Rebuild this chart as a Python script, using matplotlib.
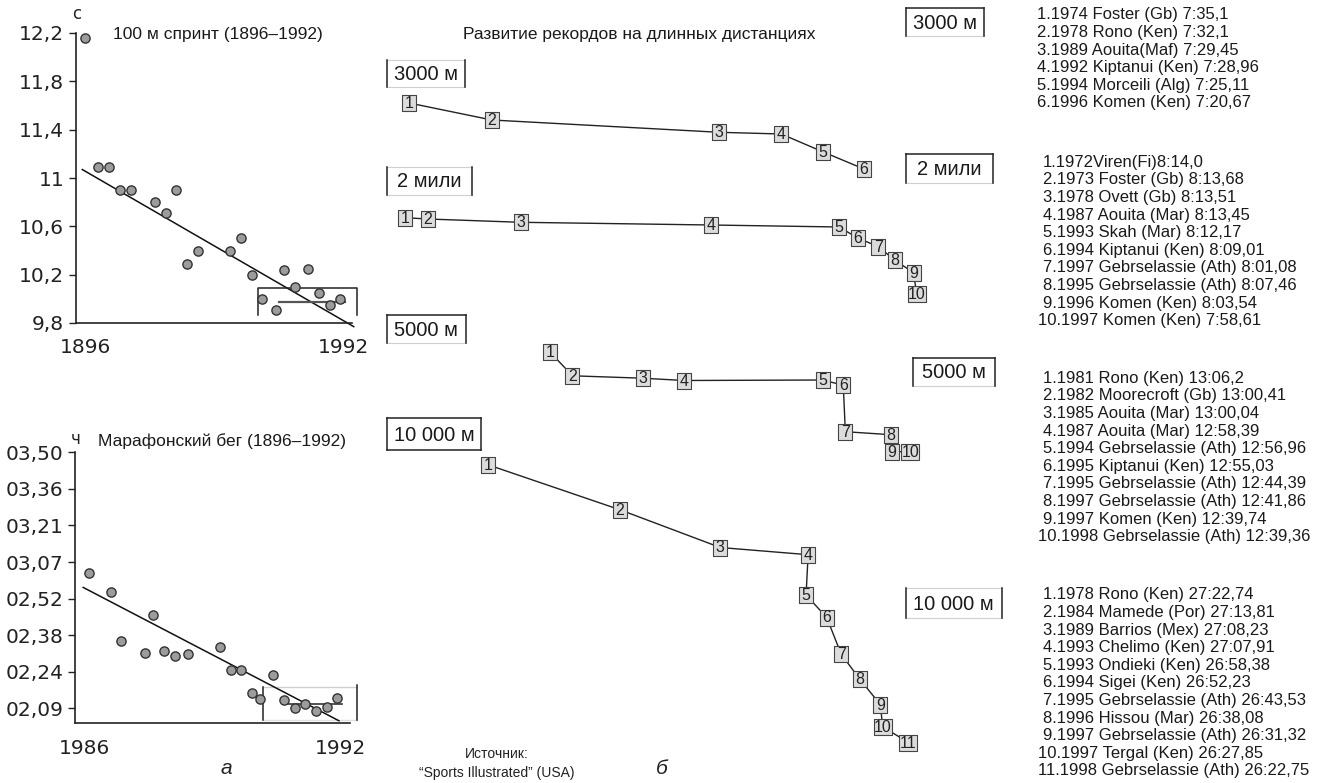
import numpy as np
import matplotlib.pyplot as plt
from matplotlib import font_manager

W, H = 1324, 783

have = {f.name for f in font_manager.fontManager.ttflist}
SANS = 'Liberation Sans' if 'Liberation Sans' in have else 'DejaVu Sans'
TICK = 'DejaVu Sans'

# ---- 100 m sprint ----
sprint_years = [1896, 1901, 1905, 1909, 1913, 1922, 1926, 1930, 1934, 1938, 1950,
                1954, 1958, 1962, 1967, 1970, 1974, 1979, 1983, 1987, 1991]
sprint_times = [12.16, 11.09, 11.09, 10.90, 10.90, 10.80, 10.71, 10.90, 10.29, 10.40, 10.40,
                10.50, 10.20, 10.00, 9.91, 10.24, 10.10, 10.25, 10.05, 9.95, 10.00]
sprint_trend_years = [1895, 1996]
sprint_trend = [11.07, 9.77]
sprint_box_years = [1960.3, 1997.3]
sprint_box_range = [9.87, 10.09]
sprint_level_years = [1968.3, 1992.7]
sprint_level = 9.97
sprint_ticks = [9.8, 10.2, 10.6, 11.0, 11.4, 11.8, 12.2]
sprint_tick_labels = ['9,8', '10,2', '10,6', '11', '11,4', '11,8', '12,2']

# ---- marathon (minutes) ----
marathon_years = [1898, 1906, 1910, 1919, 1922, 1926, 1930, 1935, 1947, 1951,
                  1955, 1959, 1962, 1967, 1971, 1975, 1979, 1983, 1987, 1991]
marathon_minutes = [182.3, 174.8, 155.7, 150.8, 165.8, 151.7, 149.7, 150.4, 153.3, 144.1,
                    144.0, 134.9, 132.7, 142.0, 132.3, 129.0, 130.6, 127.9, 129.6, 132.9]
marathon_trend_years = [1895.7, 1991.6]
marathon_trend = [176.7, 124.1]
marathon_box_years = [1963.0, 1998.3]
marathon_box_range = [124.4, 137.5]
marathon_level_years = [1970.5, 1992.6]
marathon_level = 130.7
marathon_tick_labels = ['02,09', '02,24', '02,38', '02,52', '03,07', '03,21', '03,36', '03,50']

# ---- long distances (schematic positions: year, vertical level) ----
m3000_x = [1974, 1978, 1989, 1992, 1994, 1996]
m3000_y = [103, 120, 132.3, 134, 151.7, 169]
miles2_x = [1973.8, 1974.9, 1979.4, 1988.6, 1994.8, 1995.7, 1996.7, 1997.5, 1998.4, 1998.55]
miles2_y = [217.7, 219, 222.3, 225, 227, 238, 246.7, 260.3, 272.7, 294.3]
m5000_x = [1980.8, 1981.9, 1985.3, 1987.3, 1994.0, 1995.0, 1995.1, 1997.3, 1997.35, 1998.25]
m5000_y = [351.8, 375.8, 378.2, 380.5, 380, 385.2, 431.7, 434.7, 451.7, 451.7]
m10000_x = [1977.8, 1984.2, 1989.05, 1993.3, 1993.2, 1994.2, 1994.9, 1995.8, 1996.8, 1996.9, 1998.15]
m10000_y = [464.7, 509.8, 547.5, 554.7, 595, 617.5, 654.2, 679.2, 704.8, 726.7, 742.5]

list_3000 = ['1.1974 Foster (Gb) 7:35,1', '2.1978 Rono (Ken) 7:32,1', '3.1989 Aouita(Maf) 7:29,45',
             '4.1992 Kiptanui (Ken) 7:28,96', '5.1994 Morceili (Alg) 7:25,11', '6.1996 Komen (Ken) 7:20,67']
list_2miles = ['1.1972Viren(Fi)8:14,0', '2.1973 Foster (Gb) 8:13,68', '3.1978 Ovett (Gb) 8:13,51',
               '4.1987 Aouita (Mar) 8:13,45', '5.1993 Skah (Mar) 8:12,17', '6.1994 Kiptanui (Ken) 8:09,01',
               '7.1997 Gebrselassie (Ath) 8:01,08', '8.1995 Gebrselassie (Ath) 8:07,46',
               '9.1996 Komen (Ken) 8:03,54', '10.1997 Komen (Ken) 7:58,61']
list_5000 = ['1.1981 Rono (Ken) 13:06,2', '2.1982 Moorecroft (Gb) 13:00,41', '3.1985 Aouita (Mar) 13:00,04',
             '4.1987 Aouita (Mar) 12:58,39', '5.1994 Gebrselassie (Ath) 12:56,96',
             '6.1995 Kiptanui (Ken) 12:55,03', '7.1995 Gebrselassie (Ath) 12:44,39',
             '8.1997 Gebrselassie (Ath) 12:41,86', '9.1997 Komen (Ken) 12:39,74',
             '10.1998 Gebrselassie (Ath) 12:39,36']
list_10000 = ['1.1978 Rono (Ken) 27:22,74', '2.1984 Mamede (Por) 27:13,81', '3.1989 Barrios (Mex) 27:08,23',
              '4.1993 Chelimo (Ken) 27:07,91', '5.1993 Ondieki (Ken) 26:58,38', '6.1994 Sigei (Ken) 26:52,23',
              '7.1995 Gebrselassie (Ath) 26:43,53', '8.1996 Hissou (Mar) 26:38,08',
              '9.1997 Gebrselassie (Ath) 26:31,32', '10.1997 Tergal (Ken) 26:27,85',
              '11.1998 Gebrselassie (Ath) 26:22,75']


def px_axes(fig, x0, y0, x1, y1):
    return fig.add_axes([x0 / W, 1 - y1 / H, (x1 - x0) / W, (y1 - y0) / H])


fig = plt.figure(figsize=(W / 100, H / 100), dpi=100)

# overlay in pixel units for annotations
ov = fig.add_axes([0, 0, 1, 1])
ov.set_xlim(0, W)
ov.set_ylim(H, 0)
ov.axis('off')

DOT = dict(s=44, facecolor='#9c9c9c', edgecolor='#333333', linewidths=1.0, zorder=3, clip_on=False)


def style_axes(ax):
    ax.patch.set_visible(False)
    for s in ('top', 'right'):
        ax.spines[s].set_visible(False)
    for s in ('left', 'bottom'):
        ax.spines[s].set_linewidth(1.2)
        ax.spines[s].set_color('#222222')
    ax.tick_params(axis='y', length=5, width=1, pad=3.5, labelsize=14.5, colors='#222222')
    ax.tick_params(axis='x', length=0, pad=11, labelsize=14.5, colors='#222222')
    for lab in ax.get_xticklabels() + ax.get_yticklabels():
        lab.set_family(TICK)


# ---- sprint axes ----
ax1 = px_axes(fig, 76, 33, 351.7, 323)
ax1.set_xlim(1892.65, 1995.24)
ax1.set_ylim(9.8, 12.2)
ax1.set_yticks(sprint_ticks, sprint_tick_labels)
ax1.set_xticks([1896, 1992], ['1896', '1992'])
style_axes(ax1)
ax1.scatter(sprint_years, sprint_times, **DOT)
ax1.plot(sprint_trend_years, sprint_trend, color='#111111', lw=1.1, clip_on=False, zorder=2)
bx, by = sprint_box_years, sprint_box_range
ax1.plot([bx[0], bx[0], bx[1], bx[1]], [by[0], by[1], by[1], by[0]],
         color='#222222', lw=1.1, clip_on=False, zorder=2)
ax1.plot(sprint_level_years, [sprint_level] * 2, color='#555555', lw=1.6, zorder=2)

# ---- marathon axes ----
ax2 = px_axes(fig, 75.3, 452.3, 350, 723.3)
ax2.set_xlim(1892.74, 1995.74)
ax2.set_ylim(123.1, 230)
ax2.set_yticks(np.linspace(129, 230, 8), marathon_tick_labels)
ax2.set_xticks([1896, 1992], ['1986', '1992'])
style_axes(ax2)
ax2.scatter(marathon_years, marathon_minutes, **DOT)
ax2.plot(marathon_trend_years, marathon_trend, color='#111111', lw=1.1, clip_on=False, zorder=2)
bx, by = marathon_box_years, marathon_box_range
ax2.plot([bx[0], bx[1]], [by[1], by[1]], color='#d0d0d0', lw=1, clip_on=False, zorder=1)
ax2.plot([bx[0], bx[1]], [by[0], by[0]], color='#e0e0e0', lw=1, clip_on=False, zorder=1)
ax2.plot([bx[0], bx[0]], by, color='#222222', lw=1.1, clip_on=False, zorder=2)
ax2.plot([bx[1], bx[1]], [by[0], by[1] + 0.6], color='#222222', lw=1.1, clip_on=False, zorder=2)
ax2.plot(marathon_level_years, [marathon_level] * 2, color='#333333', lw=1.2, zorder=2)

# ---- middle schematic ----
ax3 = px_axes(fig, 370, 0, 1010, H)
ax3.set_xlim(1974 - 39.2 / 20.67, 1974 + 600.8 / 20.67)
ax3.set_ylim(H, 0)
ax3.axis('off')

one = [(-0.45, -0.5), (0.45, -0.5), (0.45, 0.5), (-0.45, 0.5), (-0.45, -0.5)]
two = [(-0.6, -0.5), (0.6, -0.5), (0.6, 0.5), (-0.6, 0.5), (-0.6, -0.5)]
for xs, ys in [(m3000_x, m3000_y), (miles2_x, miles2_y), (m5000_x, m5000_y), (m10000_x, m10000_y)]:
    ax3.plot(xs, ys, color='#222222', lw=1.0, zorder=2)
    for i, (x, y) in enumerate(zip(xs, ys), start=1):
        big = i >= 10
        ax3.plot([x], [y], ls='none', marker=two if big else one, ms=13.6 if big else 11.4,
                 mfc='#dcdcdc', mec='#444444', mew=0.8, zorder=3)
        ax3.text(x, y + 0.5, str(i), ha='center', va='center', fontsize=11.5,
                 family=SANS, color='#222222', zorder=4)

# ---- framed distance labels ----
frames = [
    ('3000 м', 386.7, 465.0, 60.0, 86.7, 'lr'),
    ('2 мили', 386.7, 471.7, 166.7, 195.0, 'lr'),
    ('5000 м', 386.7, 465.7, 315.0, 343.3, 'tlr'),
    ('10 000 м', 386.7, 481.0, 418.3, 450.0, 'tlrb'),
    ('3000 м', 905.5, 984.3, 8.3, 36.0, 'tlr'),
    ('2 мили', 905.9, 993.3, 154.0, 183.3, 'tlr'),
    ('5000 м', 912.9, 994.5, 357.7, 386.0, 'tlr'),
    ('10 000 м', 905.5, 1001.8, 588.3, 618.3, 'lr'),
]
for txt, x0, x1, y0, y1, edges in frames:
    sides = {'t': ([x0, x1], [y0, y0]), 'b': ([x0, x1], [y1, y1]),
             'l': ([x0, x0], [y0, y1]), 'r': ([x1, x1], [y0, y1])}
    for k, (lx, ly) in sides.items():
        dark = k in edges
        ov.plot(lx, ly, color='#222222' if dark else '#cfcfcf', lw=1.1 if dark else 0.8)
    ov.text((x0 + x1) / 2, (y0 + y1) / 2 + 1, txt, ha='center', va='center',
            fontsize=14.5, family=SANS, color='#1a1a1a')

# ---- record lists ----
for items, top, base_x in [(list_3000, 15.0, 1036.7), (list_2miles, 162.3, 1043),
                           (list_5000, 378.3, 1043), (list_10000, 595.0, 1043)]:
    for i, line in enumerate(items):
        x = base_x - (5 if len(line.split('.')[0]) > 1 else 0)
        ov.text(x, top + 17.6 * i, line, ha='left', va='center', fontsize=12,
                family=SANS, color='#1a1a1a')

# ---- titles and captions ----
ov.text(218.3, 35, '100 м спринт (1896–1992)', ha='center', va='center', fontsize=12.5,
        family=SANS, color='#1a1a1a')
ov.text(221.7, 440.7, 'Марафонский бег (1896–1992)', ha='center', va='center', fontsize=12.5,
        family=SANS, color='#1a1a1a')
ov.text(639, 35, 'Развитие рекордов на длинных дистанциях', ha='center', va='center',
        fontsize=12.5, family=SANS, color='#1a1a1a')
ov.text(77, 14, 'с', ha='center', va='center', fontsize=12, family=TICK, color='#222222')
ov.text(76, 439, 'ч', ha='center', va='center', fontsize=12, family=TICK, color='#222222')
ov.text(226.7, 768, 'а', ha='center', va='center', fontsize=15, style='italic',
        family=SANS, color='#222222')
ov.text(661.8, 768, 'б', ha='center', va='center', fontsize=15, style='italic',
        family=SANS, color='#222222')
ov.text(497, 754, 'Источник:', ha='center', va='center', fontsize=10, family=SANS, color='#222222')
ov.text(497, 773, '“Sports Illustrated” (USA)', ha='center', va='center', fontsize=10,
        family=SANS, color='#222222')

fig.savefig('out.png', dpi=100, facecolor='white')
